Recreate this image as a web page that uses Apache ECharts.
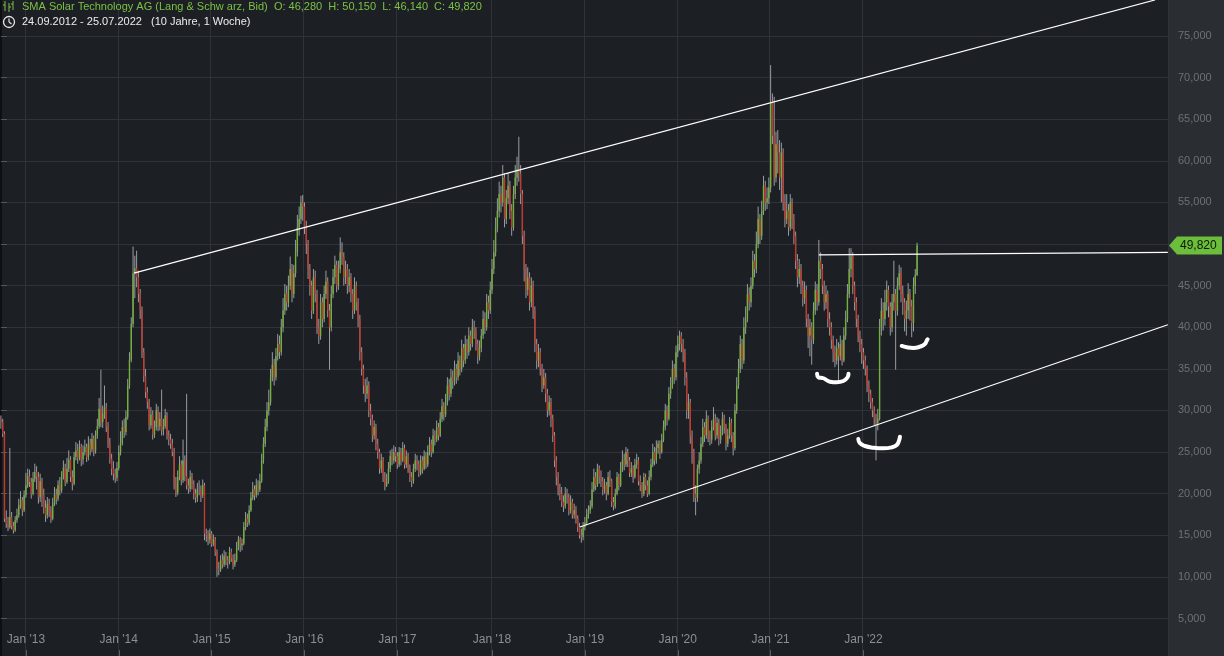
<!DOCTYPE html>
<html><head><meta charset="utf-8">
<script src="https://cdn.jsdelivr.net/npm/echarts@6/dist/echarts.min.js"></script>
<style>html,body{margin:0;padding:0;background:#1c1f24;}#c{width:1224px;height:656px;}</style>
</head><body><div id="c"></div><script>
// ---- data (weekly, Lang & Schwarz bid, EUR) ----
const startDate = '2012-09-24';
const totalWeeks = 654; // category slots incl. empty space to the right
const opens = [
28.9,28.6,27.2,17.0,16.4,16.0,17.2,16.1,15.6,16.8,
17.4,18.6,19.2,18.0,19.8,21.0,22.1,21.4,20.0,21.8,
22.6,22.0,19.6,21.5,19.8,18.3,17.4,18.8,17.9,17.0,
18.9,19.9,19.4,21.0,20.4,22.0,23.1,21.4,23.0,24.1,
22.0,21.2,24.4,25.2,24.3,25.6,24.1,25.0,25.6,24.4,
26.0,25.3,26.6,25.1,27.0,28.1,30.2,28.6,29.6,30.4,
28.0,26.1,24.2,23.0,22.4,21.9,23.1,25.0,26.1,28.0,
27.4,29.2,33.0,36.1,40.4,46.5,47.1,46.0,44.0,42.1,
37.0,34.1,32.2,31.0,28.2,29.5,27.1,28.0,30.0,28.1,
29.0,27.6,28.1,29.4,27.0,26.5,26.0,25.0,21.2,20.1,
22.0,23.5,21.6,24.0,22.1,21.0,20.6,22.0,21.1,20.0,
19.5,20.5,20.4,19.8,21.0,15.2,15.0,14.5,15.2,14.0,
14.5,13.0,11.0,10.8,12.0,11.5,12.5,12.0,11.8,13.0,
12.2,11.5,12.0,13.5,14.5,13.8,14.0,16.0,17.0,16.5,
18.0,19.5,20.5,19.8,21.0,20.5,21.5,24.0,26.0,28.0,
30.0,31.0,34.0,35.5,34.0,36.5,38.0,37.0,40.0,42.0,
44.0,43.0,45.0,47.0,44.0,46.5,49.0,52.0,53.0,55.0,
54.5,52.0,50.0,47.0,45.0,42.0,46.0,44.0,40.0,39.0,
43.0,41.0,44.0,45.5,42.0,40.0,44.0,46.0,47.5,45.0,
47.0,49.0,48.5,46.0,47.0,45.0,46.0,44.0,42.0,45.0,
43.0,41.0,37.0,35.0,33.0,32.0,33.0,30.0,29.0,27.0,
28.0,26.0,25.0,23.0,24.0,22.0,21.0,21.5,23.0,24.5,
24.0,25.0,24.5,23.5,25.0,24.0,25.5,23.5,24.5,23.0,
22.0,21.5,23.0,24.0,23.5,22.5,24.0,23.0,24.5,23.5,
25.0,26.0,25.0,27.0,26.5,28.0,27.0,29.0,30.5,29.5,
31.0,33.0,32.0,34.0,33.5,35.0,34.0,36.0,35.0,37.5,
36.0,38.0,37.0,39.0,38.0,40.0,39.5,38.0,36.5,37.5,
39.0,41.0,40.0,43.0,42.0,44.5,47.0,49.0,52.0,54.0,
56.0,55.0,58.0,53.0,55.5,57.0,54.0,52.0,56.0,58.0,
59.0,58.5,56.0,51.0,47.0,44.5,46.0,43.0,45.0,42.0,
38.0,36.0,37.0,35.0,33.0,34.0,32.0,30.0,31.0,29.0,
27.0,24.0,22.0,20.5,20.0,19.0,18.5,20.0,19.5,18.0,
19.0,17.5,18.0,17.0,16.0,15.0,14.8,16.0,16.5,17.5,
18.0,18.5,20.5,22.0,21.0,23.0,22.0,21.5,20.5,21.0,
20.0,22.0,21.5,19.0,18.5,20.0,22.0,21.0,23.0,24.0,
23.5,25.0,24.0,22.5,23.0,22.0,23.5,24.0,21.5,21.0,
20.0,22.0,21.0,20.0,22.0,23.5,25.0,24.0,25.5,26.0,
25.0,26.5,28.0,30.0,29.0,32.0,33.0,35.0,34.0,37.0,
38.0,39.0,38.0,37.0,34.0,30.0,31.0,27.0,25.0,20.0,
19.5,23.0,24.0,26.0,28.0,27.0,29.0,27.0,26.5,28.0,
29.0,27.0,28.5,26.5,27.5,29.0,28.0,26.0,27.0,28.5,
27.0,25.5,30.0,33.0,35.0,38.0,36.0,40.0,41.0,44.0,
43.0,45.0,48.0,47.0,50.0,53.0,51.0,54.0,57.0,55.0,
55.5,56.8,67.0,63.0,58.0,62.0,61.0,58.0,61.0,55.0,
53.0,54.0,52.0,55.0,53.0,51.0,48.0,46.0,47.0,45.0,
43.5,44.5,41.0,39.0,40.0,38.5,42.0,44.5,43.0,48.0,
47.0,45.0,43.0,44.0,41.0,40.0,38.5,37.0,36.0,37.5,
36.5,38.0,36.0,39.0,41.0,44.0,47.0,48.5,45.0,43.0,
41.0,39.0,38.0,37.0,36.0,35.0,33.0,32.0,31.0,30.0,
29.0,28.5,29.0,40.0,42.0,41.0,43.0,44.5,42.5,40.0,
43.0,44.0,42.0,45.0,46.5,44.0,43.0,41.0,42.0,44.0,
42.5,40.5,45.0,46.28];
const highs = [
29.4,29.0,27.5,18.0,17.2,25.5,17.8,16.6,17.3,18.2,
19.4,20.3,19.6,20.4,22.5,23.0,22.9,21.9,22.6,23.6,
23.3,22.6,22.4,21.9,20.6,19.2,19.6,19.4,18.5,19.5,
20.8,20.6,21.6,22.0,22.7,24.0,23.6,24.3,25.2,24.5,
22.8,25.0,26.2,26.0,26.4,26.0,25.8,26.5,26.0,26.9,
26.6,27.3,27.0,27.6,29.0,31.5,34.9,30.6,33.0,30.9,
28.6,26.7,24.8,23.9,23.0,23.8,25.8,27.5,28.8,29.0,
30.0,33.8,37.0,41.2,49.7,48.6,49.2,46.8,44.6,42.5,
37.5,35.0,32.8,31.4,30.4,30.0,28.8,30.8,30.5,29.8,
32.5,29.0,30.2,29.8,27.6,27.2,26.6,25.5,22.0,22.8,
24.5,24.0,26.5,24.6,32.0,21.8,22.8,22.5,21.6,20.6,
21.3,21.6,21.0,21.7,21.3,15.8,15.6,15.8,15.5,15.1,
14.8,13.3,11.8,12.6,12.8,13.2,13.0,12.5,13.6,13.4,
12.7,12.8,14.2,14.9,14.8,14.6,16.6,17.8,17.6,18.6,
20.2,21.4,21.0,21.8,21.6,22.4,24.8,26.8,29.0,31.0,
32.5,35.0,37.0,36.2,37.5,39.2,39.0,41.0,43.5,45.2,
45.0,46.2,48.5,47.6,47.5,50.5,53.5,54.5,55.8,55.9,
55.0,52.8,50.5,47.6,45.6,47.0,46.8,44.5,41.0,44.0,
43.6,45.0,46.8,46.0,42.8,45.0,47.0,48.6,48.0,48.0,
50.8,50.2,49.0,48.0,47.6,47.0,46.5,44.6,46.0,45.5,
43.5,41.5,37.6,35.5,33.8,34.0,33.5,30.8,29.5,28.8,
28.4,26.6,25.4,24.8,24.4,22.6,22.4,23.8,25.2,25.4,
25.8,25.6,25.0,25.6,25.5,26.2,25.9,25.2,24.9,23.5,
22.6,23.6,24.8,24.6,24.0,24.6,24.5,25.2,25.0,25.8,
26.8,26.5,27.8,27.6,28.8,28.5,29.8,31.4,31.0,32.0,
34.0,33.8,35.0,34.8,36.0,35.6,37.0,36.6,38.5,38.0,
39.0,38.6,40.0,39.6,41.0,40.8,40.0,38.5,38.4,39.8,
42.0,41.8,44.0,43.8,45.5,48.2,50.5,53.2,55.5,57.5,
57.0,59.5,58.5,56.5,58.5,57.6,54.8,57.0,59.5,60.5,
62.9,59.5,56.5,51.6,47.6,47.2,46.6,46.0,45.6,42.5,
38.6,38.0,37.5,35.6,35.0,34.5,32.6,31.8,31.5,29.5,
27.4,24.5,22.6,21.2,20.8,19.8,20.8,20.6,20.0,19.8,
19.4,18.8,18.5,17.4,16.5,15.8,16.6,17.2,18.2,18.6,
19.2,21.4,23.0,22.6,23.6,23.4,22.8,22.0,21.8,21.4,
22.6,22.8,21.8,19.6,20.6,22.6,22.4,23.8,25.2,24.8,
25.6,25.4,24.4,23.8,23.4,24.2,24.8,24.4,22.2,21.4,
22.5,22.4,21.6,22.8,24.2,26.0,25.6,26.4,26.4,26.4,
27.2,28.8,30.8,30.6,32.8,34.0,36.0,35.6,37.8,39.0,
39.6,39.4,38.6,37.4,34.6,32.0,31.4,27.6,25.4,21.0,
23.5,25.0,26.8,29.0,28.6,30.0,29.4,27.6,28.8,30.4,
29.6,29.2,29.0,28.2,29.8,29.5,28.4,27.8,29.2,29.0,
27.4,30.8,34.0,36.2,39.0,38.6,41.2,42.5,45.2,44.8,
46.0,49.2,48.8,51.5,54.5,53.6,55.2,58.2,57.6,56.8,
58.0,71.5,68.1,67.7,63.5,63.7,62.5,62.2,61.5,56.0,
56.0,54.8,56.0,55.5,53.6,51.5,48.8,48.2,47.6,45.6,
45.5,45.0,41.6,41.0,40.6,43.0,45.5,45.2,50.5,49.0,
47.6,45.6,45.0,44.4,41.8,40.6,39.0,37.8,38.6,38.2,
39.0,38.5,40.0,42.0,45.2,49.5,49.5,49.0,45.5,43.6,
41.5,39.6,38.6,37.5,36.6,35.4,33.6,32.5,31.5,30.5,
29.6,30.2,41.0,43.5,43.0,44.5,45.6,45.0,43.0,44.0,
48.0,44.6,46.0,47.5,47.2,45.0,43.5,43.2,45.3,44.6,
43.3,46.0,47.0,50.15];
const lows = [
27.8,26.8,16.6,15.9,15.5,15.8,15.7,15.2,15.4,16.5,
17.1,18.2,17.3,17.8,19.5,20.7,20.8,19.4,19.8,21.4,
20.5,18.8,19.0,18.4,17.6,16.6,17.0,17.2,16.5,16.8,
18.5,18.7,19.1,19.8,20.1,21.7,20.9,21.2,22.6,21.4,
20.4,21.0,24.0,23.6,24.0,23.3,23.5,24.6,23.8,24.0,
24.6,25.0,24.5,24.8,26.6,27.8,28.0,27.9,29.0,27.4,
25.5,23.6,22.2,21.6,21.3,21.5,22.8,24.6,25.8,26.7,
27.0,28.9,32.6,35.8,40.0,43.5,44.8,43.0,41.0,36.3,
33.4,31.5,30.2,27.6,27.8,26.5,26.7,27.6,27.5,27.6,
27.0,27.0,27.8,26.5,25.8,25.4,24.5,20.5,19.6,19.8,
21.6,21.0,21.3,21.5,20.5,20.0,20.2,20.5,19.3,18.9,
19.0,19.8,19.0,19.5,14.4,14.2,13.8,14.0,13.6,13.7,
12.5,10.0,10.2,10.6,11.0,11.2,11.4,11.0,11.5,11.8,
10.9,11.2,11.8,13.2,13.0,13.2,13.8,15.6,16.0,16.2,
17.8,19.2,19.2,19.5,19.8,20.2,21.3,23.6,25.6,27.5,
29.4,30.6,33.5,33.0,33.6,36.0,36.2,36.6,39.4,41.5,
42.0,42.4,44.5,43.0,43.5,46.0,48.5,51.0,52.4,52.8,
51.2,48.8,45.8,43.8,41.0,41.6,43.0,39.2,38.0,38.5,
40.0,40.6,43.4,41.2,34.9,39.5,43.5,45.2,44.2,44.5,
46.5,47.5,45.0,45.2,44.0,44.2,43.0,41.0,41.6,42.0,
40.0,36.0,34.2,32.0,31.0,31.4,29.2,28.2,26.2,26.5,
25.2,24.2,22.4,22.5,21.4,20.4,20.8,21.2,22.6,23.4,
23.6,23.8,23.0,23.2,23.4,23.8,23.0,23.1,22.5,21.4,
20.8,21.2,22.6,22.8,22.0,22.2,22.4,22.8,23.0,23.2,
24.6,24.4,24.8,25.8,26.2,26.4,26.8,28.6,28.8,29.2,
30.6,31.2,31.6,32.6,33.0,33.2,33.6,34.2,34.6,35.2,
35.6,36.2,36.6,37.2,37.6,38.6,37.2,35.6,36.0,37.0,
38.6,39.2,39.6,41.0,41.6,44.0,46.4,48.5,51.4,53.2,
53.8,54.5,52.0,52.4,54.8,53.0,51.0,51.6,55.4,57.0,
57.5,54.8,50.0,45.5,43.5,43.8,42.0,42.4,41.0,37.0,
35.0,35.2,34.2,32.2,32.6,31.0,29.2,29.4,28.0,26.2,
23.2,21.0,19.8,19.2,18.4,17.8,18.2,18.8,17.4,17.6,
17.0,17.0,16.4,15.4,14.6,14.1,14.4,15.6,16.2,17.0,
17.6,18.2,20.2,20.4,20.8,21.2,20.8,19.8,20.0,19.2,
19.8,20.8,18.4,18.0,18.2,19.8,20.4,20.8,22.6,22.8,
23.2,23.2,22.0,22.0,21.3,21.8,23.0,21.0,20.3,19.5,
19.7,20.4,19.6,19.8,21.6,23.2,23.4,23.6,24.8,24.2,
24.8,26.2,27.6,28.2,28.8,31.4,32.6,33.2,33.6,36.4,
37.2,37.0,35.8,33.0,29.0,29.0,26.0,23.6,19.0,17.4,
19.0,22.4,23.6,25.6,26.2,26.6,26.2,25.8,26.0,27.6,
26.4,26.6,25.8,26.0,27.0,27.2,25.2,25.6,26.6,26.2,
24.6,25.2,29.6,32.6,34.5,35.0,35.6,39.2,40.6,42.0,
42.4,44.6,46.0,46.5,49.5,50.0,50.5,53.5,54.0,54.2,
54.8,56.2,62.0,57.0,57.4,58.5,56.5,55.0,54.0,52.0,
52.4,51.0,51.6,51.8,50.0,47.0,44.8,45.2,44.0,42.5,
42.8,40.0,37.5,36.5,35.5,38.0,41.5,42.0,42.6,45.8,
44.0,42.0,42.2,40.0,39.0,37.4,35.8,35.2,35.5,33.3,
36.0,35.4,35.8,38.5,40.6,43.5,46.0,44.0,42.0,40.0,
38.2,37.0,35.6,35.0,34.2,32.2,31.0,30.2,29.2,28.2,
24.0,27.6,28.8,39.0,39.6,40.2,42.0,41.2,39.0,39.4,
42.0,34.9,41.4,44.5,43.0,41.5,39.5,39.0,41.0,40.8,
38.8,39.5,44.0,46.14];
const closes = [
28.6,27.2,17.0,16.4,16.0,17.2,16.1,15.6,16.8,17.4,
18.6,19.2,18.0,19.8,21.0,22.1,21.4,20.0,21.8,22.6,
22.0,19.6,21.5,19.8,18.3,17.4,18.8,17.9,17.0,18.9,
19.9,19.4,21.0,20.4,22.0,23.1,21.4,23.0,24.1,22.0,
21.2,24.4,25.2,24.3,25.6,24.1,25.0,25.6,24.4,26.0,
25.3,26.6,25.1,27.0,28.1,30.2,28.6,29.6,30.4,28.0,
26.1,24.2,23.0,22.4,21.9,23.1,25.0,26.1,28.0,27.4,
29.2,33.0,36.1,40.4,46.5,47.1,46.0,44.0,42.1,37.0,
34.1,32.2,31.0,28.2,29.5,27.1,28.0,30.0,28.1,29.0,
27.6,28.1,29.4,27.0,26.5,26.0,25.0,21.2,20.1,22.0,
23.5,21.6,24.0,22.1,21.0,20.6,22.0,21.1,20.0,19.5,
20.5,20.4,19.8,21.0,15.2,15.0,14.5,15.2,14.0,14.5,
13.0,11.0,10.8,12.0,11.5,12.5,12.0,11.8,13.0,12.2,
11.5,12.0,13.5,14.5,13.8,14.0,16.0,17.0,16.5,18.0,
19.5,20.5,19.8,21.0,20.5,21.5,24.0,26.0,28.0,30.0,
31.0,34.0,35.5,34.0,36.5,38.0,37.0,40.0,42.0,44.0,
43.0,45.0,47.0,44.0,46.5,49.0,52.0,53.0,55.0,54.5,
52.0,50.0,47.0,45.0,42.0,46.0,44.0,40.0,39.0,43.0,
41.0,44.0,45.5,42.0,40.0,44.0,46.0,47.5,45.0,47.0,
49.0,48.5,46.0,47.0,45.0,46.0,44.0,42.0,45.0,43.0,
41.0,37.0,35.0,33.0,32.0,33.0,30.0,29.0,27.0,28.0,
26.0,25.0,23.0,24.0,22.0,21.0,21.5,23.0,24.5,24.0,
25.0,24.5,23.5,25.0,24.0,25.5,23.5,24.5,23.0,22.0,
21.5,23.0,24.0,23.5,22.5,24.0,23.0,24.5,23.5,25.0,
26.0,25.0,27.0,26.5,28.0,27.0,29.0,30.5,29.5,31.0,
33.0,32.0,34.0,33.5,35.0,34.0,36.0,35.0,37.5,36.0,
38.0,37.0,39.0,38.0,40.0,39.5,38.0,36.5,37.5,39.0,
41.0,40.0,43.0,42.0,44.5,47.0,49.0,52.0,54.0,56.0,
55.0,58.0,53.0,55.5,57.0,54.0,52.0,56.0,58.0,59.0,
58.5,56.0,51.0,47.0,44.5,46.0,43.0,45.0,42.0,38.0,
36.0,37.0,35.0,33.0,34.0,32.0,30.0,31.0,29.0,27.0,
24.0,22.0,20.5,20.0,19.0,18.5,20.0,19.5,18.0,19.0,
17.5,18.0,17.0,16.0,15.0,14.8,16.0,16.5,17.5,18.0,
18.5,20.5,22.0,21.0,23.0,22.0,21.5,20.5,21.0,20.0,
22.0,21.5,19.0,18.5,20.0,22.0,21.0,23.0,24.0,23.5,
25.0,24.0,22.5,23.0,22.0,23.5,24.0,21.5,21.0,20.0,
22.0,21.0,20.0,22.0,23.5,25.0,24.0,25.5,26.0,25.0,
26.5,28.0,30.0,29.0,32.0,33.0,35.0,34.0,37.0,38.0,
39.0,38.0,37.0,34.0,30.0,31.0,27.0,25.0,20.0,19.5,
23.0,24.0,26.0,28.0,27.0,29.0,27.0,26.5,28.0,29.0,
27.0,28.5,26.5,27.5,29.0,28.0,26.0,27.0,28.5,27.0,
25.5,30.0,33.0,35.0,38.0,36.0,40.0,41.0,44.0,43.0,
45.0,48.0,47.0,50.0,53.0,51.0,54.0,57.0,55.0,55.5,
56.8,67.0,63.0,58.0,62.0,61.0,58.0,61.0,55.0,53.0,
54.0,52.0,55.0,53.0,51.0,48.0,46.0,47.0,45.0,43.5,
44.5,41.0,39.0,40.0,38.5,42.0,44.5,43.0,48.0,47.0,
45.0,43.0,44.0,41.0,40.0,38.5,37.0,36.0,37.5,36.5,
38.0,36.0,39.0,41.0,44.0,47.0,48.5,45.0,43.0,41.0,
39.0,38.0,37.0,36.0,35.0,33.0,32.0,31.0,30.0,29.0,
28.5,29.0,40.0,42.0,41.0,43.0,44.5,42.5,40.0,43.0,
44.0,42.0,45.0,46.5,44.0,43.0,41.0,42.0,44.0,42.5,
40.5,45.0,46.3,49.82];
const lastClose = 49.82;
const lastYearLabel = 2022;
// annotation geometry in data space: [week index, price]
const upperTrend = [[74.5, 46.5], [646.2, 79.33]];
const lowerTrend = [[324.2, 16.0], [653.4, 40.3]];
const resistance = [[458.0, 48.7], [653.4, 49.0]];
const stroke1 = [[457.0,34.4],[457.7,34.0],[460.5,33.87],[464.2,33.46],[468.0,33.39],[471.7,33.54],[474.1,33.99],[474.6,34.4]];
const stroke2 = [[480.1,26.57],[481.0,26.06],[483.8,25.73],[488.5,25.53],[494.1,25.45],[498.8,25.57],[501.6,25.85],[503.0,26.45],[503.4,26.85]];
const stroke3 = [[504.4,37.75],[507.2,37.59],[510.9,37.51],[514.6,37.66],[517.4,37.99],[518.4,38.39],[518.9,38.55]];
const headerLine1 = 'SMA Solar Technology AG (Lang & Schw arz, Bid)  O: 46,280  H: 50,150  L: 46,140  C: 49,820';
const headerLine2 = '24.09.2012 - 25.07.2022   (10 Jahre, 1 Woche)';

// ---- categories (weekly) ----
const DAY = 86400000;
const t0 = Date.parse(startDate + 'T00:00:00Z');
const weekDates = [];
const yearMark = {};
for (let i = 0; i < totalWeeks; i++) {
  const a = t0 + i * 7 * DAY, b = a + 6 * DAY;
  weekDates.push(new Date(a).toISOString().slice(0, 10));
  const yb = new Date(b).getUTCFullYear();
  const jan1 = Date.UTC(yb, 0, 1);
  if (jan1 >= a && jan1 <= b && yb <= lastYearLabel) yearMark[i] = "Jan '" + String(yb).slice(2);
}
const candleData = closes.map((c, i) => [i, opens[i], c, lows[i], highs[i]]);
const fmt = v => v.toFixed(3).replace('.', ',');

const chart = echarts.init(document.getElementById('c'), null, {renderer: 'canvas'});
const isYear = (i) => yearMark.hasOwnProperty(i);
const FONT = 'Liberation Sans, Arial, sans-serif';
const option = {
  animation: false,
  backgroundColor: '#1c1f24',
  grid: {left: 0, right: 56, top: -5.6, bottom: -4.1, containLabel: false, outerBoundsMode: 'none'},
  xAxis: [{
    type: 'category', data: weekDates, boundaryGap: true,
    axisLine: {show: false},
    axisTick: {show: true, inside: true, length: 10, alignWithLabel: true, interval: isYear, lineStyle: {color: '#5a5e64'}},
    axisLabel: {inside: true, margin: 14, interval: isYear, formatter: (v, i) => yearMark[i] || '', color: '#8c8f94', fontSize: 12, fontFamily: FONT},
    splitLine: {show: true, interval: isYear, lineStyle: {color: '#2f3339', width: 1}}
  }, {
    type: 'value', min: -0.5, max: totalWeeks - 0.5, show: false
  }],
  yAxis: {
    type: 'value', position: 'right', min: 0, max: 80, interval: 5,
    axisLine: {show: true, lineStyle: {color: '#0d0f12', width: 2}},
    axisTick: {show: true, length: 6, lineStyle: {color: '#55595f'}},
    axisLabel: {margin: 10, color: '#6d7177', fontSize: 11, fontFamily: FONT,
      formatter: v => (v < 5 || v > 75) ? '' : fmt(v)},
    splitLine: {show: true, lineStyle: {color: '#2f3339', width: 1}}
  },
  series: [{
    type: 'custom', xAxisIndex: 0, yAxisIndex: 0, data: candleData,
    encode: {x: 0, y: [1, 2, 3, 4]}, silent: true,
    renderItem: function (params, api) {
      const i = api.value(0);
      const o = api.value(1), c = api.value(2), l = api.value(3), h = api.value(4);
      const pH = api.coord([i, h]), pL = api.coord([i, l]);
      const pO = api.coord([i, o]), pC = api.coord([i, c]);
      const x = pH[0];
      const up = c >= o;
      const top = Math.min(pO[1], pC[1]);
      const hgt = Math.max(Math.abs(pO[1] - pC[1]), 1);
      return {type: 'group', children: [
        {type: 'line', shape: {x1: x, y1: pH[1], x2: x, y2: pL[1]}, style: {stroke: '#9a9c9f', lineWidth: 1}},
        {type: 'rect', shape: {x: x - 0.7, y: top, width: 1.4, height: hgt}, style: {fill: up ? '#74b03c' : '#c23a2e'}}
      ]};
    }
  }, {
    type: 'line', xAxisIndex: 1, data: upperTrend, showSymbol: false, silent: true,
    lineStyle: {color: '#ffffff', width: 1.2}, z: 5
  }, {
    type: 'line', xAxisIndex: 1, data: lowerTrend, showSymbol: false, silent: true,
    lineStyle: {color: '#ffffff', width: 1.2}, z: 5
  }, {
    type: 'line', xAxisIndex: 1, data: resistance, showSymbol: false, silent: true,
    lineStyle: {color: '#ffffff', width: 1.2}, z: 5
  }].concat([stroke1, stroke2, stroke3].map(s => ({
    type: 'line', xAxisIndex: 1, data: s, showSymbol: false, silent: true, smooth: true,
    lineStyle: {color: '#ffffff', width: 4, cap: 'round', join: 'round'}, z: 6
  })))
};
chart.setOption(option);

// overlay: right axis panel, header, last-price tag
const py = chart.convertToPixel({yAxisIndex: 0}, lastClose);
chart.setOption({graphic: [
  {type: 'rect', z: -100, silent: true, shape: {x: 1168, y: 0, width: 56, height: 656}, style: {fill: '#2a2d32'}},
  {type: 'polygon', z: 100, silent: true, shape: {points: [[1169, py], [1177, py - 9], [1222, py - 9], [1222, py + 9], [1177, py + 9]]}, style: {fill: '#6cbd3c'}},
  {type: 'text', z: 101, silent: true, x: 1180, y: py, style: {text: fmt(lastClose), fill: '#0d1a05', font: '12px ' + FONT, verticalAlign: 'middle'}},
  // header icon (bars)
  {type: 'group', z: 100, silent: true, children: [
    {type: 'line', shape: {x1: 5, y1: 1, x2: 5, y2: 11}, style: {stroke: '#7cc143', lineWidth: 1}},
    {type: 'line', shape: {x1: 9, y1: 3, x2: 9, y2: 12}, style: {stroke: '#7cc143', lineWidth: 1}},
    {type: 'line', shape: {x1: 13, y1: 1, x2: 13, y2: 10}, style: {stroke: '#7cc143', lineWidth: 1}},
    {type: 'line', shape: {x1: 3, y1: 5, x2: 5, y2: 5}, style: {stroke: '#7cc143', lineWidth: 1}},
    {type: 'line', shape: {x1: 9, y1: 7, x2: 11, y2: 7}, style: {stroke: '#7cc143', lineWidth: 1}},
    {type: 'line', shape: {x1: 11, y1: 4, x2: 13, y2: 4}, style: {stroke: '#7cc143', lineWidth: 1}}
  ]},
  {type: 'text', z: 100, silent: true, x: 22, y: 7, style: {text: headerLine1, fill: '#7cc143', font: '11px ' + FONT, verticalAlign: 'middle'}},
  // clock icon
  {type: 'group', z: 100, silent: true, children: [
    {type: 'circle', shape: {cx: 9, cy: 22, r: 5.5}, style: {stroke: '#e6e6e6', fill: null, lineWidth: 1.3}},
    {type: 'line', shape: {x1: 9, y1: 22, x2: 9, y2: 18.5}, style: {stroke: '#e6e6e6', lineWidth: 1.2}},
    {type: 'line', shape: {x1: 9, y1: 22, x2: 11.5, y2: 24}, style: {stroke: '#e6e6e6', lineWidth: 1.2}}
  ]},
  {type: 'text', z: 100, silent: true, x: 22, y: 22, style: {text: headerLine2, fill: '#ececec', font: '11px ' + FONT, verticalAlign: 'middle'}}
]});
</script></body></html>
